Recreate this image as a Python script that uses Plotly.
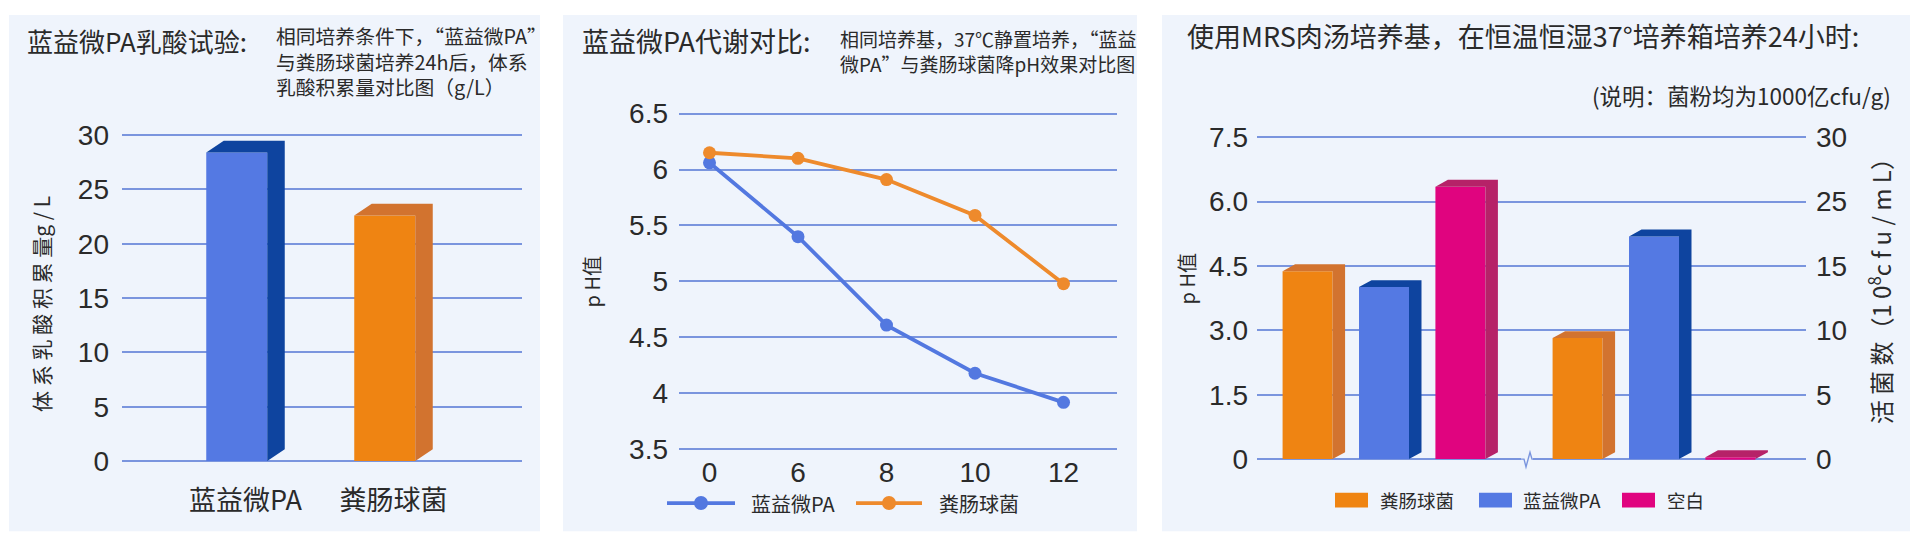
import plotly.graph_objects as go

# ---------------- data ----------------
lactic_categories = ["蓝益微PA", "粪肠球菌"]
lactic_values = [28.4, 22.6]
lactic_ticks = [0, 5, 10, 15, 20, 25, 30]

ph_hours = ["0", "6", "8", "10", "12"]
ph_lanyi = [6.06, 5.40, 4.61, 4.18, 3.92]
ph_fecal = [6.15, 6.10, 5.91, 5.59, 4.98]
ph_ticks = [3.5, 4, 4.5, 5, 5.5, 6, 6.5]
ph_series = ["蓝益微PA", "粪肠球菌"]

mrs_series = ["粪肠球菌", "蓝益微PA", "空白"]
mrs_ph = [4.38, 4.01, 6.35]
mrs_count = [9.4, 17.3, 0.15]
mrs_ph_ticks = [0, 1.5, 3.0, 4.5, 6.0, 7.5]
mrs_ph_ticktext = ["0", "1.5", "3.0", "4.5", "6.0", "7.5"]
mrs_count_ticks = [0, 5, 10, 15, 20, 25]
mrs_count_ticktext = ["0", "5", "10", "15", "25", "30"]

# ---------------- styles ----------------
OFF = 8                      # page body margin of the viewer
FW, FH = 1920 - OFF, 552 - OFF
FRONT = {"蓝益微PA": "#5479e3", "粪肠球菌": "#ef8412", "空白": "#e0047f"}
SIDE = {"蓝益微PA": "#0e449f", "粪肠球菌": "#d2732f", "空白": "#b62268"}
LINE = {"蓝益微PA": "#5378e0", "粪肠球菌": "#ee8a2c"}
GRID = "#7a95de"
PANEL_BG = "#eff4fc"
TXT = "#2a2a2a"
CJK = "Noto Sans CJK SC"
NUM = "Liberation Sans, Noto Sans CJK SC"


def px(x):
    return (x - OFF) / FW


def py(y):
    return 1 - (y - OFF) / FH


def xdom(p0, v0, unit, r0, r1):
    return [px(p0 + (r0 - v0) * unit), px(p0 + (r1 - v0) * unit)]


def ydom(p0, v0, unit, r0, r1):
    return [py(p0 - (r0 - v0) * unit), py(p0 - (r1 - v0) * unit)]


fig = go.Figure()


def bar3d(xc, v, wf, offset, dx, dy, name, xa, ya):
    xl = xc + offset
    xr = xl + wf
    fig.add_trace(go.Bar(x=[xc], y=[v], width=[wf], offset=offset, base=0,
                         marker=dict(color=FRONT[name], line=dict(width=0)),
                         xaxis=xa, yaxis=ya, showlegend=False, hoverinfo="skip"))
    fig.add_trace(go.Scatter(x=[xr, xr + dx, xr + dx, xl + dx, xl, xr, xr],
                             y=[0, dy, v + dy, v + dy, v, v, 0],
                             fill="toself", fillcolor=SIDE[name], mode="lines",
                             line=dict(width=0, color=SIDE[name]),
                             xaxis=xa, yaxis=ya, showlegend=False, hoverinfo="skip"))


# ---------------- panel 1 ----------------
p1_unit_x = 148.0
p1_x0 = 245.5
p1_xr = [(122 - p1_x0) / p1_unit_x, (522 - p1_x0) / p1_unit_x]
p1_y0px, p1_y30px = 466, 132
p1_unit_y = (p1_y0px - p1_y30px) / 30.0
p1_yr = [-1.0, 31.0]
wf1 = 61 / p1_unit_x
dx1 = 17.5 / p1_unit_x
dy1 = 12 / p1_unit_y
for i, (c, v) in enumerate(zip(lactic_categories, lactic_values)):
    bar3d(i, v, wf1, -(wf1 + dx1) / 2, dx1, dy1, c, "x", "y")

# ---------------- panel 2 ----------------
p2_unit_x = 88.5
p2_x0 = 709.5
p2_xr = [(679 - p2_x0) / p2_unit_x, (1117 - p2_x0) / p2_unit_x]
p2_unit_y = (454 - 110) / 3.0
p2_yr = [3.4, 6.6]
idx = list(range(len(ph_hours)))
for name, vals in zip(ph_series, [ph_lanyi, ph_fecal]):
    fig.add_trace(go.Scatter(x=idx, y=vals, mode="lines+markers", name=name,
                             line=dict(color=LINE[name], width=3.8),
                             marker=dict(size=13, color=LINE[name]),
                             xaxis="x2", yaxis="y2", showlegend=False, hoverinfo="skip"))

# ---------------- panel 3 ----------------
p3_unit_x = 270.0
p3_x0 = 1384.0
p3_xr = [(1257 - p3_x0) / p3_unit_x, (1806 - p3_x0) / p3_unit_x]
p3_unit_y = (464 - 134.3) / 7.5
p3_yr = [-0.2, 7.7]
ratio = 25 / 7.5
p3_yr2 = [p3_yr[0] * ratio, p3_yr[1] * ratio]
spacing = 0.283
wf3 = 50 / p3_unit_x
dx3 = 12.5 / p3_unit_x
dy3_px = 7.0
for i, name in enumerate(mrs_series):
    bar3d(0 + (i - 1) * spacing, mrs_ph[i], wf3, -wf3 / 2, dx3, dy3_px / p3_unit_y, name, "x3", "y3")
    bar3d(1 + (i - 1) * spacing, mrs_count[i], wf3, -wf3 / 2, dx3, dy3_px / (p3_unit_y / ratio), name, "x3", "y4")

# ---------------- axes ----------------
tickfont = dict(family=NUM, size=28, color=TXT)
common_y = dict(showgrid=True, gridcolor=GRID, gridwidth=1.6, zeroline=False, showline=False,
                ticks="", tickfont=tickfont, fixedrange=True)
common_x = dict(showgrid=False, zeroline=False, showline=False, ticks="", fixedrange=True)

fig.update_layout(
    xaxis=dict(**common_x, domain=xdom(p1_x0, 0, p1_unit_x, *p1_xr), range=p1_xr, anchor="y",
               tickvals=[0, 1], ticktext=lactic_categories,
               tickfont=dict(family=CJK, size=27, color=TXT), ticklabelstandoff=10),
    yaxis=dict(**common_y, domain=ydom(p1_y0px, 0, p1_unit_y, *p1_yr), range=p1_yr, anchor="x",
               tickvals=lactic_ticks, ticklabelstandoff=12),
    xaxis2=dict(**common_x, domain=xdom(p2_x0, 0, p2_unit_x, *p2_xr), range=p2_xr, anchor="y2",
                tickvals=idx, ticktext=ph_hours, tickfont=tickfont, ticklabelstandoff=-8),
    yaxis2=dict(**common_y, domain=ydom(454, 3.5, p2_unit_y, *p2_yr), range=p2_yr, anchor="x2",
                tickvals=ph_ticks, ticktext=[("%g" % t) for t in ph_ticks], ticklabelstandoff=10),
    xaxis3=dict(**common_x, domain=xdom(p3_x0, 0, p3_unit_x, *p3_xr), range=p3_xr, anchor="y3",
                showticklabels=False),
    yaxis3=dict(**common_y, domain=ydom(464, 0, p3_unit_y, *p3_yr), range=p3_yr, anchor="x3",
                tickvals=mrs_ph_ticks, ticktext=mrs_ph_ticktext, ticklabelstandoff=8),
    yaxis4=dict(showgrid=False, zeroline=False, showline=False, ticks="", tickfont=tickfont,
                overlaying="y3", side="right", anchor="x3", range=p3_yr2,
                tickvals=mrs_count_ticks, ticktext=mrs_count_ticktext, ticklabelstandoff=9,
                fixedrange=True),
)

# ---------------- decorations ----------------
shapes = []
for (x0, y0, x1, y1) in [(9, 9, 540, 538), (563, 9, 1137, 538), (1162, 9, 1910, 538)]:
    shapes.append(dict(type="rect", xref="paper", yref="paper", x0=px(x0), x1=px(x1),
                       y0=py(y1), y1=py(y0), fillcolor=PANEL_BG, line=dict(width=0), layer="below"))

# axis break mark on panel 3 baseline
shapes.append(dict(type="rect", xref="paper", yref="paper", x0=px(1521), x1=px(1533),
                   y0=py(467), y1=py(461), fillcolor=PANEL_BG, line=dict(width=0)))
brk = [(1519, 464), (1524, 464), (1526, 472), (1530, 457), (1532, 464), (1536, 464)]
path = "M " + " L ".join("%f,%f" % (px(a), py(b)) for a, b in brk)
shapes.append(dict(type="path", xref="paper", yref="paper", path=path,
                   line=dict(color=GRID, width=1.4)))

annotations = []


def text(x, y, s, size, anchor="left", angle=0, family=CJK, color=TXT, yanchor="middle"):
    annotations.append(dict(x=px(x), y=py(y), xref="paper", yref="paper", text=s,
                            showarrow=False, xanchor=anchor, yanchor=yanchor, textangle=angle,
                            align="left", font=dict(family=family, size=size, color=color)))


# panel 1 texts
text(25, 35, "蓝益微PA乳酸试验:", 26)
text(274, 56, "相同培养条件下，“蓝益微PA”<br>与粪肠球菌培养24h后，体系<br>乳酸积累量对比图（g/L）", 19.8)
text(41, 305, "体 系 乳 酸 积 累 量g / L", 21, anchor="center", angle=-90)

# panel 2 texts
text(580, 35, "蓝益微PA代谢对比:", 27)
text(838, 46, "相同培养基，37℃静置培养，“蓝益<br>微PA”与粪肠球菌降pH效果对比图", 19)
text(591, 283, "p H值", 20, anchor="center", angle=-90)

# panel 2 legend
LEG2_Y = 509
leg2 = [(667, 735, 749), (856, 922, 937)]
for name, (l0, l1, tx) in zip(ph_series, leg2):
    shapes.append(dict(type="line", xref="paper", yref="paper", x0=px(l0), x1=px(l1),
                       y0=py(LEG2_Y), y1=py(LEG2_Y), line=dict(color=LINE[name], width=3.8)))
    cx = (l0 + l1) / 2
    shapes.append(dict(type="circle", xref="paper", yref="paper", xsizemode="pixel",
                       ysizemode="pixel", xanchor=px(cx), yanchor=py(LEG2_Y),
                       x0=-7, x1=7, y0=-7, y1=7, fillcolor=LINE[name], line=dict(width=0)))
    text(tx, LEG2_Y, name, 20)

# panel 3 texts
text(1185, 30, "使用MRS肉汤培养基，在恒温恒湿37°培养箱培养24小时:", 27)
text(1893, 91, "(说明：菌粉均为1000亿cfu/g)", 22.5, anchor="right")
text(1186, 280, "p H值", 20, anchor="center", angle=-90)
text(1880, 286, "活 菌 数（1 0<sup>8</sup>c f u / m L）", 24, anchor="center", angle=-90)

# panel 3 legend
LEG3_Y = 506
leg3 = [(1335, 1368, 1378), (1479, 1512, 1521), (1622, 1655, 1665)]
for name, (s0, s1, tx) in zip(mrs_series, leg3):
    shapes.append(dict(type="rect", xref="paper", yref="paper", x0=px(s0), x1=px(s1),
                       y0=py(LEG3_Y + 7.5), y1=py(LEG3_Y - 7.5), fillcolor=FRONT[name],
                       line=dict(width=0)))
    text(tx, LEG3_Y, name, 18.5)

fig.update_layout(
    width=FW, height=FH, autosize=False,
    margin=dict(l=0, r=0, t=0, b=0, pad=0),
    paper_bgcolor="white", plot_bgcolor="rgba(0,0,0,0)",
    barmode="overlay", showlegend=False, hovermode=False,
    shapes=shapes, annotations=annotations,
    font=dict(family=CJK, color=TXT),
)

fig.write_html("out.html")
